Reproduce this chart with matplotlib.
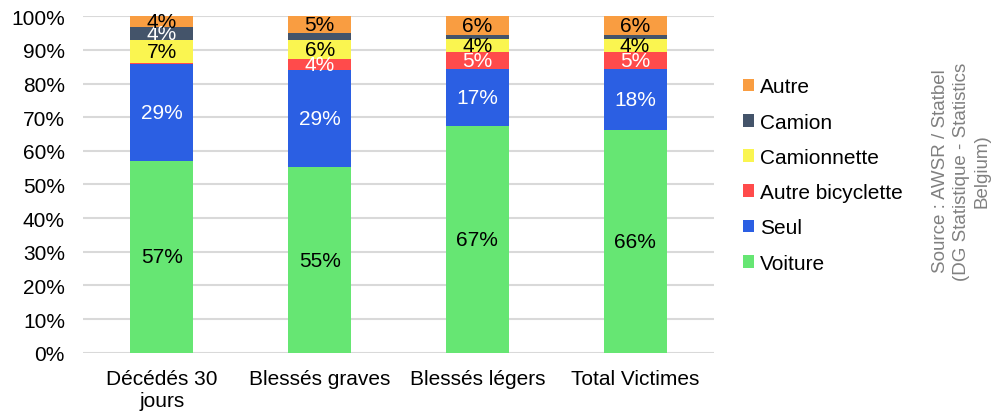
import matplotlib
matplotlib.use("Agg")
import matplotlib.pyplot as plt
from matplotlib.patches import Patch

plt.rcParams['font.family'] = ['Liberation Sans', 'DejaVu Sans']

categories = ["Décédés 30\njours", "Blessés graves", "Blessés légers", "Total Victimes"]
series_names = ["Voiture", "Seul", "Autre bicyclette", "Camionnette", "Camion", "Autre"]
voiture = [57.1, 55.1, 67.3, 66.1]
seul = [28.6, 28.8, 17.0, 18.2]
autre_bicyclette = [0.3, 3.5, 5.1, 5.1]
camionnette = [7.1, 5.7, 3.8, 3.8]
camion = [3.6, 2.0, 1.2, 1.2]
autre = [3.7, 5.1, 5.7, 5.7]
labels_voiture = ["57%", "55%", "67%", "66%"]
labels_seul = ["29%", "29%", "17%", "18%"]
labels_bic = ["", "4%", "5%", "5%"]
labels_camionnette = ["7%", "6%", "4%", "4%"]
labels_camion = ["4%", "", "", ""]
labels_autre = ["4%", "5%", "6%", "6%"]

series = [voiture, seul, autre_bicyclette, camionnette, camion, autre]
labels = [labels_voiture, labels_seul, labels_bic, labels_camionnette, labels_camion, labels_autre]
colors = ["#66E673", "#2B5FE3", "#FF4B4B", "#FAF550", "#44546A", "#F99D41"]
label_colors = ["black", "white", "white", "black", "white", "black"]

FS = 15

fig = plt.figure(figsize=(9.99, 4.14), dpi=100)
ax = fig.add_axes([0.0831, 0.1457, 0.6316, 0.8125])

x = list(range(len(categories)))
bottom = [0.0] * len(categories)
for vals, col, labs, lc in zip(series, colors, labels, label_colors):
    bars = ax.bar(x, vals, width=0.4, bottom=bottom, color=col, zorder=2)
    for i, (b, lab) in enumerate(zip(bars, labs)):
        if lab:
            ax.text(b.get_x() + b.get_width() / 2, bottom[i] + vals[i] / 2, lab,
                    ha='center', va='center', color=lc, fontsize=FS, zorder=3)
    bottom = [bo + v for bo, v in zip(bottom, vals)]

ax.set_xlim(-0.5, 3.5)
ax.set_ylim(0, 100)
ax.set_yticks(range(0, 101, 10))
ax.set_yticklabels([f"{v}%" for v in range(0, 101, 10)], fontsize=FS)
ax.set_xticks(x)
ax.set_xticklabels(categories, fontsize=FS, linespacing=1.2)
ax.yaxis.grid(True, color="#D9D9D9", linewidth=1.5, zorder=0)
ax.set_axisbelow(True)
for s in ax.spines.values():
    s.set_visible(False)
ax.tick_params(axis='both', length=0)
ax.tick_params(axis='y', pad=13)
ax.tick_params(axis='x', pad=12)

handles = [Patch(facecolor=c, label=n) for c, n in zip(colors, series_names)]
handles = handles[::-1]
fig.legend(handles=handles, loc='center left', bbox_to_anchor=(0.7247, 0.575),
           frameon=False, fontsize=FS, handlelength=0.56, handleheight=0.56,
           handletextpad=0.25, labelspacing=0.78)

fig.text(0.962, 0.586, "Source : AWSR / Statbel\n(DG Statistique - Statistics\nBelgium)",
         rotation=90, ha='center', va='center', multialignment='center',
         color="#808080", fontsize=13.5, linespacing=1.3)

fig.savefig("out.png", dpi=100)
